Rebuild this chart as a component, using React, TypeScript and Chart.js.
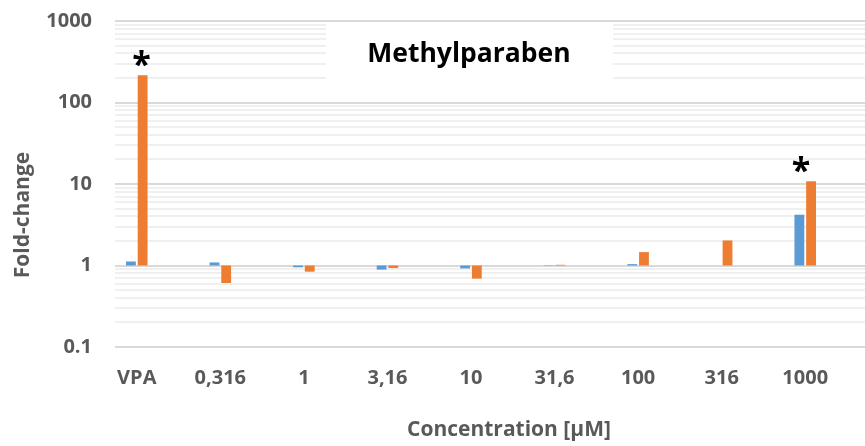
import React, { useEffect, useRef } from "react";
import { Chart, registerables } from "chart.js";

Chart.register(...registerables);

// Concentration steps (VPA = positive control)
const categories = ["VPA", "0,316", "1", "3,16", "10", "31,6", "100", "316", "1000"];
// Fold-change per concentration, two readouts
const seriesBlue = [1.12, 1.09, 0.95, 0.89, 0.92, 1.01, 1.04, 1.0, 4.2];
const seriesOrange = [216, 0.61, 0.84, 0.93, 0.69, 1.02, 1.46, 2.03, 10.8];
// Significant changes marked with an asterisk
const orangeSignificant = [true, false, false, false, false, false, false, false, true];
const yTickValues = [0.1, 1, 10, 100, 1000];

const chartTitle = "Methylparaben";
const xAxisTitle = "Concentration [µM]";
const yAxisTitle = "Fold-change";

const FONT = "'Open Sans', 'DejaVu Sans', sans-serif";
const GREY_TEXT = "#595959";
const BLUE = "#5b9bd5";
const ORANGE = "#ed7d31";

const decorations = {
  id: "decorations",
  beforeDatasetsDraw(chart: any) {
    const { ctx } = chart;
    const yScale = chart.scales.y;
    const gridLeft = 115;
    const gridRight = chart.width;
    ctx.save();
    // log grid: minor lines first, decade lines on top
    const drawLines = (major: boolean) => {
      for (let e = -1; e <= 3; e++) {
        for (let m = 1; m <= 9; m++) {
          if ((m === 1) !== major) continue;
          const v = m * Math.pow(10, e);
          if (v > 1000 * 1.0001) continue;
          const py = Math.round(yScale.getPixelForValue(v));
          ctx.strokeStyle = major ? "#d9d9d9" : "#f0f0f0";
          ctx.lineWidth = 2;
          ctx.beginPath();
          ctx.moveTo(gridLeft, py);
          ctx.lineTo(gridRight, py);
          ctx.stroke();
        }
      }
    };
    drawLines(false);
    drawLines(true);

    // title box
    ctx.fillStyle = "#ffffff";
    ctx.fillRect(326, 23, 287, 68);
    ctx.fillStyle = "#000000";
    ctx.font = `bold 26.5px ${FONT}`;
    ctx.textAlign = "center";
    ctx.textBaseline = "alphabetic";
    ctx.fillText(chartTitle, 469, 62);
    ctx.restore();
  },
  afterDatasetsDraw(chart: any) {
    const { ctx } = chart;
    ctx.save();
    // significance asterisks above the orange bars
    const meta = chart.getDatasetMeta(1);
    const nudge: Record<number, number> = { 0: -1, 8: -10 };
    ctx.font = `bold 34px ${FONT}`;
    ctx.fillStyle = "#000000";
    ctx.textAlign = "center";
    ctx.textBaseline = "alphabetic";
    const m = ctx.measureText("*");
    const A = m.actualBoundingBoxAscent;
    const D = m.actualBoundingBoxDescent;
    orangeSignificant.forEach((sig, i) => {
      if (!sig) return;
      const bar = meta.data[i];
      const top = Math.min(bar.y, bar.base);
      const center = top - 17;
      const baseline = center - (D - A) / 2;
      ctx.fillText("*", bar.x + (nudge[i] || 0), baseline);
    });

    // axis titles
    ctx.fillStyle = GREY_TEXT;
    ctx.font = `bold 21px ${FONT}`;
    ctx.textAlign = "center";
    ctx.fillText(xAxisTitle, 509, 436);
    ctx.translate(29, 215);
    ctx.rotate(-Math.PI / 2);
    ctx.fillText(yAxisTitle, 0, 0);
    ctx.restore();
  },
};

export default function App() {
  const canvasRef = useRef<HTMLCanvasElement | null>(null);

  useEffect(() => {
    const canvas = canvasRef.current;
    if (!canvas) return;
    const chart = new Chart(canvas, {
      type: "bar",
      data: {
        labels: categories,
        datasets: [
          {
            label: "blue",
            data: seriesBlue.map((v) => [1, v]) as any,
            backgroundColor: BLUE,
            borderWidth: 0,
            categoryPercentage: 0.28,
            barPercentage: 0.84,
          },
          {
            label: "orange",
            data: seriesOrange.map((v) => [1, v]) as any,
            backgroundColor: ORANGE,
            borderWidth: 0,
            categoryPercentage: 0.28,
            barPercentage: 0.84,
          },
        ],
      },
      options: {
        responsive: false,
        animation: false,
        devicePixelRatio: 1,
        layout: { padding: { left: 0, right: 18, top: 21, bottom: 0 } },
        plugins: {
          legend: { display: false },
          tooltip: { enabled: false },
          title: { display: false },
        },
        scales: {
          x: {
            type: "category",
            offset: true,
            grid: { display: false, drawTicks: false },
            border: { display: false },
            ticks: {
              color: GREY_TEXT,
              font: { family: FONT, size: 20, weight: "bold" },
              padding: 19,
              maxRotation: 0,
              autoSkip: false,
            },
            afterFit: (s: any) => {
              s.height = 99;
            },
          },
          y: {
            type: "logarithmic",
            min: 0.1,
            max: 1000,
            grid: { display: false, drawTicks: false },
            border: { display: false },
            afterBuildTicks: (s: any) => {
              s.ticks = yTickValues.map((v) => ({ value: v }));
            },
            ticks: {
              color: GREY_TEXT,
              font: { family: FONT, size: 20, weight: "bold" },
              padding: 3,
              autoSkip: false,
              callback: (v: any) => String(v),
            },
            afterFit: (s: any) => {
              s.width = 95;
            },
          },
        },
      } as any,
      plugins: [decorations],
    });
    return () => chart.destroy();
  }, []);

  return (
    <div style={{ position: "absolute", left: 0, top: 0, width: 865, height: 446, background: "#ffffff" }}>
      <canvas ref={canvasRef} width={865} height={446} style={{ display: "block" }} />
    </div>
  );
}
